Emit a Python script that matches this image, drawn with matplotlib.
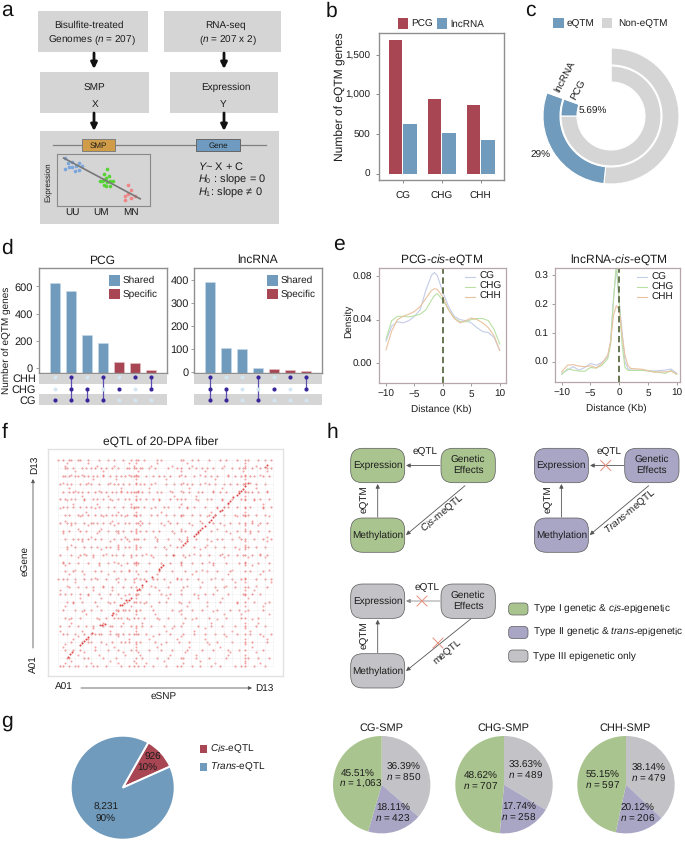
import numpy as np
import matplotlib
matplotlib.use('Agg')
import matplotlib.pyplot as plt
from matplotlib.patches import Rectangle, FancyBboxPatch

plt.rcParams['font.family'] = ['Liberation Sans', 'DejaVu Sans']
plt.rcParams['mathtext.fontset'] = 'custom'
plt.rcParams['mathtext.rm'] = 'Liberation Sans'
plt.rcParams['mathtext.it'] = 'Liberation Sans:italic'
plt.rcParams['text.hinting'] = 'no_hinting'
plt.rcParams['text.hinting_factor'] = 1

W, H = 685, 841
RED = '#a84653'
BLUE = '#709bbc'
GREY = '#d6d5d6'
GREEN = '#a9c48f'
PURPLE = '#a9a5c4'
SILVER = '#c3c3c7'
TXT = '#1c1c1c'

# --- data ---
# b
b_groups = ['CG', 'CHG', 'CHH']
b_pcg = [1690, 939, 871]
b_lnc = [627, 513, 424]
# c, sweep in degrees, last slice is the empty part of the ring
c_outer = [186, 104, 70]
c_inner = [270, 20, 70]
# d
d_pcg_shared = [627, 563, 247, 188]
d_pcg_specific = [47, 37, -15]
d_lnc_shared = [393, 102, 98, 18]
d_lnc_specific = [10, 6, 1]
d_pcg_sets = {'CHH': [0, 1, 0, 1, 0, 1, 1], 'CHG': [0, 1, 1, 0, 1, 0, 1], 'CG': [1, 1, 1, 1, 0, 0, 0]}
d_lnc_sets = {'CHH': [1, 0, 0, 1, 0, 1, 1], 'CHG': [1, 1, 0, 0, 1, 0, 1], 'CG': [1, 1, 0, 1, 0, 0, 0]}
# e left
e1_x = [-10, -9, -8, -7, -6, -5, -4, -3, -2, -1.5, -1, 0, 1, 2, 3, 4, 5, 6, 7, 8, 9, 10]
e1_cg = [.020, .034, .038, .037, .039, .043, .049, .067, .081, .0835, .081, .0655, .052, .043, .040, .039, .037, .0325, .029, .028, .0235, .0115]
e1_chg = [.022, .039, .043, .043, .0425, .0435, .045, .049, .058, .062, .064, .058, .049, .0415, .038, .038, .040, .041, .041, .039, .031, .0175]
e1_chh = [.012, .0295, .040, .043, .045, .0475, .052, .0595, .067, .0685, .068, .061, .049, .041, .037, .039, .0415, .040, .037, .0325, .025, .0115]
# e right
e2_x = [-10, -9, -8, -7, -6, -5, -4, -3, -2, -1.5, -1, -.5, 0, .5, 1, 1.5, 2, 4, 6, 8, 9, 10]
e2_cg = [-.040, -.029, -.017, -.029, -.020, -.006, -.012, -.002, .017, .070, .220, .323, .208, .104, 0, -.023, -.029, -.029, -.032, -.029, -.025, -.040]
e2_chg = [-.044, -.025, -.029, -.032, -.033, -.020, -.022, -.012, .010, .060, .210, .340, .210, .060, -.020, -.030, -.030, -.030, -.034, -.040, -.030, -.044]
e2_chh = [-.035, -.012, -.010, -.015, -.017, -.014, -.021, -.006, .023, .070, .160, .194, .179, .092, .023, -.012, -.023, -.026, -.036, -.035, -.033, -.042]
# f, eSNP position (% of genome) for each eGene row
f_rows = {
    0: [1, 2, 5, 8, 9, 13, 16, 18, 22, 29, 33, 35, 37, 40, 44, 50, 55, 57, 62, 66, 71, 75, 82, 85, 87, 91, 96],
    1: [4, 5, 12, 14, 21, 27, 36, 39, 46, 51, 57, 58, 64, 70, 78, 87, 88, 93, 98],
    2: [3, 7, 10, 17, 23, 28, 34, 36, 42, 48, 53, 60, 67, 72, 79, 84, 87, 95],
    3: [6, 11, 14, 15, 20, 25, 29, 31, 33, 36, 38, 45, 50, 56, 61, 69, 74, 81, 87, 90, 97],
    4: [2, 4, 8, 12, 15, 17, 19, 20, 24, 27, 28, 30, 33, 35, 36, 37, 41, 47, 52, 58, 63, 68, 73, 77, 83, 87, 89, 94, 99],
    5: [1, 5, 9, 13, 16, 21, 24, 25, 29, 34, 36, 39, 43, 49, 54, 57, 65, 71, 76, 82, 87, 92, 96],
    6: [3, 6, 10, 18, 22, 26, 28, 29, 32, 35, 37, 40, 46, 51, 59, 64, 70, 78, 85, 87, 93],
    7: [2, 8, 12, 15, 20, 27, 28, 30, 31, 33, 36, 38, 44, 53, 57, 62, 67, 74, 80, 84, 88, 95],
    8: [4, 7, 11, 17, 23, 26, 32, 35, 36, 38, 41, 47, 50, 56, 61, 69, 75, 83, 87, 91, 98],
    9: [1, 3, 6, 10, 14, 19, 24, 28, 33, 36, 37, 42, 48, 52, 57, 63, 68, 72, 79, 86, 87, 90, 94],
    10: [5, 9, 13, 16, 21, 25, 30, 34, 36, 39, 45, 51, 58, 66, 73, 77, 82, 87, 88, 97],
    11: [0, 2, 4, 8, 12, 15, 18, 22, 27, 31, 35, 38, 40, 44, 46, 49, 55, 57, 60, 65, 71, 76, 81, 85, 87, 92, 96, 99],
    12: [3, 7, 11, 17, 20, 26, 29, 33, 36, 41, 47, 53, 59, 64, 69, 74, 80, 87, 89, 95],
    13: [2, 5, 9, 14, 19, 23, 28, 32, 35, 36, 37, 42, 48, 52, 57, 62, 67, 72, 78, 84, 87, 93, 98],
    14: [1, 6, 10, 13, 16, 21, 25, 27, 30, 34, 36, 39, 43, 50, 54, 58, 61, 66, 70, 75, 79, 83, 86, 87, 90, 94, 97],
    15: [4, 8, 12, 15, 18, 22, 24, 28, 31, 33, 36, 38, 45, 49, 55, 57, 63, 68, 73, 77, 82, 87, 88, 92, 96],
    16: [3, 7, 9, 11, 14, 17, 20, 26, 29, 32, 35, 36, 37, 40, 46, 51, 56, 60, 64, 69, 74, 76, 81, 85, 87, 91, 95, 99],
    17: [2, 5, 10, 13, 19, 23, 27, 28, 30, 34, 36, 38, 41, 44, 47, 53, 57, 59, 65, 71, 78, 83, 87, 89, 93, 98],
    18: [1, 4, 6, 8, 12, 15, 16, 18, 21, 24, 28, 31, 33, 36, 37, 39, 42, 48, 52, 55, 61, 67, 72, 75, 80, 84, 87, 90, 94, 97],
    19: [3, 5, 9, 11, 14, 17, 20, 22, 25, 27, 29, 32, 35, 36, 38, 43, 46, 50, 54, 57, 58, 62, 66, 70, 73, 77, 82, 86, 87, 88, 92, 96],
    20: [2, 4, 7, 10, 13, 15, 19, 23, 26, 30, 34, 35, 36, 37, 40, 45, 49, 51, 56, 60, 63, 68, 74, 79, 83, 87, 89, 95, 99],
    21: [1, 3, 6, 8, 12, 16, 18, 21, 24, 28, 31, 33, 36, 38, 41, 44, 47, 52, 55, 57, 59, 64, 69, 71, 76, 81, 85, 87, 91, 94, 98],
    22: [2, 5, 7, 9, 11, 14, 17, 20, 22, 25, 27, 29, 32, 34, 35, 36, 37, 39, 42, 46, 48, 53, 58, 61, 65, 67, 72, 75, 78, 84, 87, 88, 90, 93, 97],
    23: [1, 4, 6, 10, 13, 15, 19, 23, 26, 28, 30, 33, 36, 38, 40, 43, 50, 54, 57, 60, 62, 66, 70, 73, 77, 80, 83, 86, 87, 92, 96],
    24: [2, 3, 5, 8, 9, 12, 14, 16, 18, 21, 24, 27, 29, 31, 34, 35, 36, 37, 41, 44, 47, 49, 52, 56, 59, 63, 68, 71, 74, 79, 82, 85, 87, 89, 91, 95, 98],
    25: [3, 4, 7, 11, 13, 15, 17, 20, 22, 25, 28, 32, 33, 35, 36, 38, 39, 42, 45, 51, 55, 57, 61, 64, 67, 69, 72, 76, 81, 84, 86, 87, 90, 94, 97, 99],
    26: [0, 2, 5, 6, 9, 10, 14, 19, 23, 26, 30, 34, 36, 37, 40, 46, 48, 57, 58, 62, 65, 70, 75, 78, 83, 87, 88, 93, 96, 99],
}
# f, points lying between the rows (eGene %, eSNP % list)
f_between = {
    1.4: [3, 15, 28, 36, 41, 58, 73, 87, 94], 2.5: [6, 24, 35, 49, 66, 87], 5.2: [9, 19, 31, 38, 52, 64, 79, 87],
    6.5: [12, 30, 37, 59, 80, 92], 9.1: [2, 17, 26, 36, 46, 61, 75, 90], 10.5: [3, 22, 36, 48, 70, 87],
    13: [7, 14, 33, 42, 55, 68, 87, 97], 14.5: [9, 28, 44, 57, 78, 95], 17: [1, 11, 24, 36, 50, 63, 81, 89],
    18.5: [16, 36, 53, 68, 87], 20.8: [6, 21, 30, 39, 58, 71, 87, 93], 22.5: [5, 19, 33, 47, 62, 74, 90],
    25: [13, 27, 36, 45, 57, 77, 85, 98], 26.5: [11, 28, 36, 56, 72, 87], 29: [3, 18, 34, 43, 60, 69, 87, 95],
    30.5: [7, 24, 40, 57, 83, 96], 32.8: [10, 20, 29, 36, 51, 65, 76, 88], 34.5: [14, 31, 36, 50, 65, 87],
    37: [1, 16, 25, 38, 47, 57, 74, 87, 91], 38.5: [4, 21, 43, 60, 78, 92], 40.9: [8, 28, 35, 52, 67, 82, 87, 99],
    42.5: [17, 28, 36, 55, 73, 87], 44.8: [5, 12, 23, 37, 46, 62, 79, 94], 46.5: [8, 33, 47, 67, 81, 98],
    48.7: [3, 19, 29, 36, 57, 72, 87, 90], 50.5: [2, 26, 36, 57, 70, 87], 52.9: [9, 16, 34, 44, 59, 77, 88, 96],
    54.5: [12, 22, 41, 63, 76, 94], 56.6: [4, 20, 28, 36, 50, 66, 84, 87], 58.5: [6, 28, 36, 52, 69, 87],
    60.8: [11, 24, 33, 46, 57, 71, 87, 97], 62.5: [15, 31, 45, 60, 84, 97], 64.7: [2, 18, 28, 36, 54, 65, 80, 89],
    66.5: [9, 20, 36, 57, 74, 87], 68.6: [6, 14, 26, 38, 49, 62, 77, 87, 93], 70.5: [3, 25, 38, 51, 66, 90],
    72.8: [10, 21, 31, 36, 57, 69, 83, 87, 98], 74.5: [13, 28, 36, 48, 71, 87], 76.6: [1, 17, 35, 43, 60, 74, 87, 95],
    78.5: [7, 18, 34, 57, 79, 95], 80.7: [4, 12, 25, 36, 47, 65, 76, 87, 91], 82.5: [11, 23, 36, 54, 64, 87],
    84.8: [8, 19, 29, 37, 52, 57, 72, 84, 87, 97], 86.5: [5, 29, 42, 61, 76, 92], 88.6: [2, 14, 24, 36, 45, 58, 68, 87, 89],
    90.5: [16, 27, 36, 50, 73, 87], 92.7: [6, 11, 21, 33, 36, 57, 66, 79, 87, 94], 94.5: [8, 21, 37, 57, 68, 86, 97],
    96.8: [3, 18, 26, 35, 43, 53, 62, 77, 87, 92], 98.5: [4, 14, 33, 36, 46, 60, 87],
}
# f, cis diagonal
f_cis_snp = [4.6, 5.5, 6.5, 10, 11, 12, 13, 14, 15.5, 19.4, 20.5, 21.5, 24.8, 25.5, 28.7, 29.5, 30.5, 31.5, 33, 34, 36.4, 37.5, 39, 41, 43.4, 47, 48, 48.8, 53.5, 58, 59, 60, 63, 64, 65, 66, 67, 68, 70, 71, 72, 73, 75, 76, 77, 79, 80, 81.4, 83, 84, 85, 86, 87, 88.4, 96, 97]
f_cis_gene = [4.4, 5.5, 6.5, 10, 11, 12, 13, 14, 15.7, 19.8, 20, 20.5, 24.6, 25.5, 29.5, 29.5, 30.5, 32, 32, 33, 36.8, 37.5, 39, 41, 43.3, 47, 48, 49, 53.8, 58.7, 59.5, 60.5, 63, 64, 65, 66, 67, 68, 70, 71, 72.4, 73, 75, 75.5, 77, 79, 80, 82, 83, 84, 85, 86, 87.5, 88.7, 96.5, 97.6]
# g
g_counts = [926, 8231]
g_names = ['CG-SMP', 'CHG-SMP', 'CHH-SMP']
g_pct = {'CG-SMP': [36.39, 18.11, 45.51], 'CHG-SMP': [33.63, 17.74, 48.62], 'CHH-SMP': [37.0, 16.4, 46.6]}
# a, inset scatter, genotype axis position and expression
a_uu_x = [193, 203, 215, 205, 214, 193, 226, 235, 246, 225, 236]
a_uu_y = [475, 490, 488, 503, 502, 508, 500, 491, 498, 513, 512]
a_um_x = [320, 310, 325, 298, 310, 318, 328, 337, 312, 320, 330, 318, 305]
a_um_y = [508, 523, 530, 545, 540, 535, 545, 545, 555, 548, 560, 560, 545]
a_mn_x = [383, 392, 383, 405, 393, 373, 373]
a_mn_y = [557, 570, 582, 590, 595, 590, 602]


def add_ax(x0, y0, x1, y1, **kw):
    return fig.add_axes([x0 / W, 1 - y1 / H, (x1 - x0) / W, (y1 - y0) / H], **kw)


def soft_spines(ax, color='#8f8f8f', lw=1.0):
    for s in ax.spines.values():
        s.set_color(color)
        s.set_linewidth(lw)


fig = plt.figure(figsize=(W / 100, H / 100), dpi=100, facecolor='white')
ov = fig.add_axes([0, 0, 1, 1], zorder=5, facecolor='none')
ov.set_xlim(0, W)
ov.set_ylim(H, 0)
ov.axis('off')


def label(x, y, s, size=7.3, ha='center', va='center', rot=0, color=TXT, **kw):
    return ov.text(x, y, s, fontsize=size, ha=ha, va=va, rotation=rot, color=color,
                   rotation_mode='anchor', **kw)


def box(x0, y0, x1, y1, color=GREY, ec='none', lw=0, z=1):
    ov.add_patch(Rectangle((x0, y0), x1 - x0, y1 - y0, fc=color, ec=ec, lw=lw, zorder=z))


def arrow(x0, y0, x1, y1, lw=0.6, color='#555555', ms=6):
    ov.annotate('', xy=(x1, y1), xytext=(x0, y0),
                arrowprops=dict(arrowstyle='-|>', lw=lw, color=color, mutation_scale=ms,
                                shrinkA=0, shrinkB=0))


# panel letters
for s, x, y in [('a', 1, 15.5), ('b', 326, 17), ('c', 525, 15.5), ('d', 1, 254),
                ('e', 333, 250), ('f', 2, 438), ('g', 1, 727), ('h', 327, 438)]:
    label(x, y, s, size=15, ha='left', va='baseline', color='#111111')

# --- a ---
box(38, 11, 148, 52)
box(164, 11, 281, 52)
box(40, 72, 149, 113)
box(170, 72, 278, 113)
box(40, 131, 279, 224)
label(88.5, 25, 'Bisulfite-treated')
label(92, 40, 'Genomes ($n$ = 207)')
label(225, 25, 'RNA-seq')
label(228, 40, '($n$ = 207 x 2)')
label(94, 88, 'SMP')
label(95, 104, 'X')
label(226, 87, 'Expression')
label(223, 104, 'Y')
for x, y0, y1 in [(94, 53, 69), (224, 53, 69), (94, 113, 131), (224, 113, 131)]:
    arrow(x, y0, x, y1, lw=2, color='#111111', ms=9)
ov.plot([53, 266], [145, 145], color='#7f7f7f', lw=0.9, zorder=2)
box(82, 139, 115, 151, color='#d09c47', ec='#7f7f7f', lw=0.7, z=3)
box(196, 139, 240, 151, color='#6e9bbf', ec='#666666', lw=0.7, z=3)
label(98, 146, 'SMP', size=5.8, zorder=4)
label(218, 146, 'Gene', size=5.8, zorder=4)
label(221, 166, '$Y$~ X + C', size=7.6)
label(198, 179.5, '$H_0$ : slope = 0', size=7.6, ha='left')
label(198, 192.5, '$H_1$: slope ≠ 0', size=7.6, ha='left')
label(49, 182, 'Expression', size=5.6, rot=90)
label(72, 212, 'UU')
label(101, 212, 'UM')
label(131, 212, 'MN')
ax = add_ax(57, 154, 149.5, 205.5, zorder=6, facecolor='none')
ax.set_xlim(170, 448)
ax.set_ylim(617, 463)
ax.set_xticks([])
ax.set_yticks([])
soft_spines(ax, '#8a8a8a', 0.8)
ax.plot([190, 420], [475, 597], color='#777777', lw=1.2)
ax.scatter(a_uu_x, a_uu_y, s=7, color='#7aa6dc', lw=0)
ax.scatter(a_um_x, a_um_y, s=7, color='#55d335', lw=0)
ax.scatter(a_mn_x, a_mn_y, s=7, color='#f08585', lw=0)

# --- b ---
ax = add_ax(379, 33, 504, 180)
xs = np.arange(len(b_groups))
ax.bar(xs - 0.19, b_pcg, 0.346, color=RED)
ax.bar(xs + 0.19, b_lnc, 0.346, color=BLUE)
ax.set_xlim(-0.61, 2.595)
ax.set_ylim(-82, 1778)
ax.set_xticks(xs)
ax.set_xticklabels(b_groups, fontsize=7.3, color=TXT)
ax.set_yticks([0, 500, 1000, 1500])
ax.set_yticklabels(['0', '500', '1,000', '1,500'], fontsize=7.3, color=TXT)
ax.tick_params(length=2.5, width=0.6, color='#777777', pad=4)
ax.tick_params(axis='x', pad=6)
soft_spines(ax)
label(340, 97, 'Number of eQTM genes', size=8.8, rot=90)
box(398.5, 18, 408.5, 29, color=RED, z=3)
label(411, 24, 'PCG', ha='left')
box(437.5, 18, 447.5, 29, color=BLUE, z=3)
label(450.5, 24, 'lncRNA', ha='left')

# --- c ---
ax = add_ax(611 - 68, 116 - 68, 611 + 68, 116 + 68)
ax.pie(c_outer, radius=1, startangle=90, counterclock=False,
       colors=[GREY, BLUE, 'none'], wedgeprops=dict(width=17 / 68, edgecolor='white', linewidth=0.8))
ax.pie(c_inner, radius=50 / 68, startangle=90, counterclock=False,
       colors=[GREY, BLUE, 'none'], wedgeprops=dict(width=16 / 68, edgecolor='white', linewidth=0.8))
ax.set_xlim(-1, 1)
ax.set_ylim(-1, 1)
box(553, 18, 564, 28, color=BLUE, z=3)
label(567, 23.5, 'eQTM', ha='left')
box(602, 18, 612, 28, color=GREY, z=3)
label(618, 23.5, 'Non-eQTM', ha='left')
label(565, 77, 'lncRNA', rot=62)
label(579, 90, 'PCG', rot=62)
label(593, 111, '5.69%')
label(541, 155, '29%')


# --- d ---
def upset(x0, x1, y_top, y_bot, shared, specific, sets, ticks, ylim, bx):
    ax = add_ax(x0, y_top, x1, y_bot)
    pos = np.arange(7)
    ax.bar(pos[:4], np.array(shared) - ylim[0], 0.625, bottom=ylim[0], color=BLUE, edgecolor='#c7dcec', lw=0.4)
    ax.bar(pos[4:], np.array(specific) - ylim[0], 0.625, bottom=ylim[0], color=RED, edgecolor='#e8c6ca', lw=0.4)
    ax.set_xlim(-1, 7)
    ax.set_ylim(*ylim)
    ax.set_xticks([])
    ax.set_yticks(ticks)
    ax.set_yticklabels([str(t) for t in ticks], fontsize=7.6, color=TXT)
    ax.tick_params(length=2, width=0.5, color='#777777', pad=2)
    soft_spines(ax)
    m = add_ax(x0, 374, x1, 406)
    m.set_xlim(-1, 7)
    m.set_ylim(-0.55, 2.3)
    m.axis('off')
    m.axhspan(-0.5, 0.5, color=GREY, lw=0)
    m.axhspan(1.41, 2.3, color=GREY, lw=0)
    rows = {'CG': 0, 'CHG': 1, 'CHH': 2}
    for name, flags in sets.items():
        y = rows[name]
        for i, f in enumerate(flags):
            on = f == 1
            m.scatter(i, y, s=9 if on else 8, color='#37279a' if on else '#d3e7f3', lw=0, zorder=4)
    for i in range(7):
        ys = [rows[n] for n in sets if sets[n][i]]
        if len(ys) > 1:
            m.plot([i, i], [min(ys), max(ys)], color='#5a4fae', lw=0.9, zorder=3)
    box(bx, 275, bx + 11, 285.5, color=BLUE, z=3)
    label(bx + 14, 280.5, 'Shared', ha='left')
    box(bx, 289, bx + 11, 299, color=RED, z=3)
    label(bx + 14, 294.5, 'Specific', ha='left')


upset(38.7, 166.7, 268, 373, d_pcg_shared, d_pcg_specific, d_pcg_sets,
      [0, 200, 400, 600], (-35, 735), 109)
upset(194.3, 322, 268, 373, d_lnc_shared, d_lnc_specific, d_lnc_sets,
      [0, 100, 200, 300, 400], (-6, 454), 266.7)
label(102, 261, 'PCG', size=8.9)
label(258, 260, 'lncRNA', size=8.9)
label(6, 340, 'Number of eQTM genes', size=7.2, rot=90)
for s, y in [('CHH', 379), ('CHG', 390.5), ('CG', 401)]:
    label(36, y, s, size=7.6, ha='right')


# --- e ---
def density(box_px, x, cg, chg, chh, xlim, ylim, yticks, ylabs, leg_x, leg_y):
    ax = add_ax(*box_px)
    for vals, c in [(cg, '#c4cce8'), (chg, '#b9e0a4'), (chh, '#e9c3a0')]:
        ax.plot(x, vals, color=c, lw=0.8)
    ax.axvline(0, color='#5d6b45', lw=1.3, ls=(0, (3.5, 2)))
    ax.set_xlim(*xlim)
    ax.set_ylim(*ylim)
    ax.set_xticks([-10, -5, 0, 5, 10])
    ax.set_xticklabels(['−10', '−5', '0', '5', '10'], fontsize=7.3, color=TXT)
    ax.set_yticks(yticks)
    ax.set_yticklabels(ylabs, fontsize=7.3, color=TXT)
    ax.tick_params(length=2.5, width=0.5, color='#777777', pad=2.5)
    soft_spines(ax, '#b5a7a9', 0.9)
    for i, (s, c) in enumerate([('CG', '#c4cce8'), ('CHG', '#b9e0a4'), ('CHH', '#e9c3a0')]):
        y = leg_y + i * 10
        ov.plot([leg_x, leg_x + 10], [y, y], color=c, lw=0.8)
        label(leg_x + 14, y, s, size=7.3, ha='left')


density((379.3, 268.3, 506, 382.7), e1_x, e1_cg, e1_chg, e1_chh, (-11.18, 11.1), (-0.0183, 0.0874),
        [0, .04, .08], ['0.00', '0.04', '0.08'], 465, 276.5)
density((555, 268.3, 680, 382), e2_x, e2_cg, e2_chg, e2_chh, (-11.17, 10.57), (-0.07, 0.323),
        [0, .1, .2, .3], ['0.0', '0.1', '0.2', '0.3'], 637, 277)
label(442, 260, 'PCG-$cis$-eQTM', size=8.7)
label(619, 260, 'lncRNA-$cis$-eQTM', size=8.7)
label(441, 409, 'Distance (Kb)', size=7.2)
label(616, 408, 'Distance (Kb)', size=7.2)
label(349, 321, 'Density', size=7.2, rot=90)

# --- f ---
ax = add_ax(48.3, 449, 283.3, 676)
ax.set_xlim(-4.65, 104.65)
ax.set_ylim(-5, 105.3)
ax.set_xticks([])
ax.set_yticks([])
soft_spines(ax, '#e2e2e2', 1.0)
edges = np.arange(27) * 100 / 26
ax.hlines(edges, 0, 100, color='#dddddd', lw=0.4, ls=(0, (1, 1.5)))
ax.vlines(edges, 0, 100, color='#dddddd', lw=0.4, ls=(0, (1, 1.5)))
for r, snps in f_rows.items():
    ax.scatter(snps, [r * 100 / 26] * len(snps), s=2.4, color='#e53b3b', alpha=0.55, lw=0)
for g, snps in f_between.items():
    ax.scatter(snps, [g] * len(snps), s=2.2, color='#e53b3b', alpha=0.45, lw=0)
ax.scatter(f_cis_snp, f_cis_gene, s=2.2, color='#d92c2c', alpha=0.85, lw=0)
label(161, 442, 'eQTL of 20-DPA fiber', size=8.8)
label(35, 465, 'D13', rot=90)
label(34, 664, 'A01', rot=90)
label(26, 561, 'eGene', rot=90)
arrow(33, 648, 33, 479, lw=0.6, ms=5)
label(64, 687, 'A01')
label(264, 689, 'D13')
label(164, 697, 'eSNP')
arrow(81, 688, 252, 688, lw=0.6, ms=5)


# --- h ---
def rbox(x0, y0, x1, y1, color, rad=12):
    ov.add_patch(FancyBboxPatch((x0, y0), x1 - x0, y1 - y0,
                                boxstyle=f'round,pad=0,rounding_size={rad}',
                                fc=color, ec='#5a5a5a', lw=0.5, zorder=2))


def cross(x, y, r=5):
    ov.plot([x - r, x + r], [y - r, y + r], color='#e88d7c', lw=0.7, zorder=4)
    ov.plot([x - r, x + r], [y + r, y - r], color='#e88d7c', lw=0.7, zorder=4)


def group(dx, dy, color):
    rbox(350.7 + dx, 448.3 + dy, 404.7 + dx, 482.7 + dy, color)
    rbox(441 + dx, 448.3 + dy, 495.3 + dx, 482.7 + dy, color)
    rbox(350.7 + dx, 518 + dy, 404.7 + dx, 552.3 + dy, color)
    label(377.7 + dx, 465.5 + dy, 'Expression', zorder=3)
    label(468 + dx, 459.5 + dy, 'Genetic', zorder=3)
    label(468 + dx, 470.5 + dy, 'Effects', zorder=3)
    label(377.7 + dx, 535.5 + dy, 'Methylation', zorder=3)
    arrow(377.7 + dx, 517 + dy, 377.7 + dx, 484 + dy)
    label(364 + dx, 499 + dy, 'eQTM', rot=90)


group(0, 0, GREEN)
arrow(440, 465.5, 406, 465.5)
label(425, 452, 'eQTL')
arrow(465, 485.7, 406, 535)
label(443, 514, '$Cis$-meQTL', rot=40)
group(183.7, 0, PURPLE)
arrow(624, 465.5, 590, 465.5)
label(609, 452, 'eQTL')
cross(605.7, 465.5)
arrow(648.7, 485.7, 589.7, 535)
label(630, 512, '$Trans$-meQTL', rot=40)
group(0, 135.7, SILVER)
arrow(440, 601, 406, 601, color='#888888')
label(427, 587.5, 'eQTL')
cross(422, 601)
arrow(470.7, 619, 406, 671)
label(447, 652, 'meQTL', rot=40)
cross(438, 643)
for y, c, s in [(609, GREEN, 'Type I genetic & $cis$-epigenetic'),
                (632.5, PURPLE, 'Type II genetic & $trans$-epigenetic'),
                (656, SILVER, 'Type III epigenetic only')]:
    rbox(508.7, y - 6, 528, y + 6, c, rad=4)
    label(533, y, s, ha='left')

# --- g ---
ax = add_ax(122.7 - 52, 787.7 - 52, 122.7 + 52, 787.7 + 52)
ax.pie(g_counts, startangle=60.5, counterclock=False, colors=[RED, BLUE],
       wedgeprops=dict(edgecolor='white', linewidth=1.4))
ax.set_xlim(-1, 1)
ax.set_ylim(-1, 1)
label(153, 757.5, '926')
label(147.5, 768, '10%')
label(106, 807, '8,231')
label(106, 819, '90%')
box(200, 745, 207.5, 753, color=RED, z=3)
label(210, 749, '$Cis$-eQTL', ha='left')
box(200, 763, 207.5, 771, color=BLUE, z=3)
label(210, 767, '$Trans$-eQTL', ha='left')

pie_centers = {'CG-SMP': 381.7, 'CHG-SMP': 504, 'CHH-SMP': 626}
for name in g_names:
    cx = pie_centers[name]
    ax = add_ax(cx - 48.7, 784.7 - 48.7, cx + 48.7, 784.7 + 48.7)
    ax.pie(g_pct[name], startangle=90, counterclock=False, colors=[SILVER, PURPLE, GREEN])
    ax.set_xlim(-1, 1)
    ax.set_ylim(-1, 1)
    label(cx - 0.5, 728, name, size=7.6)

for x, y, pct, n in [(358, 774, '45.51%', '1,063'), (404, 767, '36.39%', '850'), (393, 808, '18.11%', '423'),
                     (481, 776, '48.62%', '707'), (525.7, 765, '33.63%', '489'), (519, 807, '17.74%', '258'),
                     (602.7, 775, '55.15%', '597'), (649, 768, '38.14%', '479'), (637.7, 808, '20.12%', '206')]:
    label(x, y, pct)
    label(x + (3 if n == '1,063' else 0), y + 10, f'$n$ = {n}')

fig.savefig('out.png', dpi=100)
